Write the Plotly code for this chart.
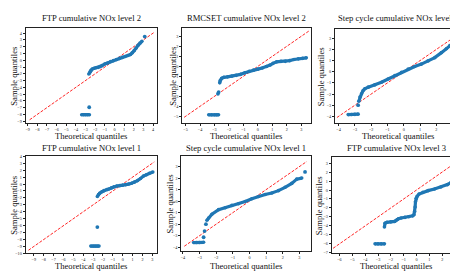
import plotly.graph_objects as go

W, H = 458, 273

titles = ["FTP cumulative NOx level 2", "RMCSET cumulative NOx level 2", "Step cycle cumulative NOx level 2",
          "FTP cumulative NOx level 1", "Step cycle cumulative NOx level 1", "FTP cumulative NOx level 3"]

# --- data (theoretical quantile, sample quantile) ---
# P1: FTP level 2
p1_cluster_x = [-3.4, -3.2, -3.0, -2.8, -2.6]
p1_cluster_y = [-8.05, -8.05, -8.05, -8.05, -8.05]
p1_pts_x = [-2.62, 3.14]
p1_pts_y = [-6.95, 3.5]
p1_curve_x = [-2.66, -2.55, -2.45, -2.3, -2.1, -1.9, -1.7, -1.5, -1.3, -1.0, -0.7, -0.4, -0.1, 0.2, 0.5, 0.8, 1.1, 1.4, 1.65, 1.85, 2.05, 2.25, 2.45, 2.65, 2.85]
p1_curve_y = [-2.04, -1.75, -1.5, -1.3, -1.18, -1.1, -1.08, -0.95, -0.8, -0.55, -0.4, -0.2, -0.05, 0.1, 0.27, 0.42, 0.55, 0.7, 0.85, 1.1, 1.4, 1.8, 2.2, 2.55, 2.8]

# P2: RMCSET level 2
p2_cluster_x = [-3.4, -3.2, -3.0, -2.85, -2.72]
p2_cluster_y = [-4.85, -4.85, -4.85, -4.85, -4.85]
p2_pts_x = [-2.76, -2.71]
p2_pts_y = [-2.74, -2.57]
p2_curve_x = [-2.64, -2.6, -2.5, -2.35, -2.1, -1.8, -1.5, -1.2, -0.9, -0.6, -0.3, 0.0, 0.3, 0.6, 0.85, 1.05, 1.3, 1.6, 1.9, 2.2, 2.5, 2.8, 3.1, 3.35]
p2_curve_y = [-1.65, -1.42, -1.2, -1.1, -1.05, -0.98, -0.9, -0.8, -0.65, -0.5, -0.38, -0.28, -0.16, -0.02, 0.13, 0.3, 0.45, 0.5, 0.5, 0.57, 0.68, 0.75, 0.8, 0.85]

# P3: Step cycle level 2
p3_cluster_x = [-3.41, -3.2, -3.0, -2.8]
p3_cluster_y = [-3.84, -3.83, -3.82, -3.8]
p3_pts_x = [-2.8]
p3_pts_y = [-3.0]
p3_curve_x = [-2.76, -2.69, -2.59, -2.49, -2.39, -2.18, -1.78, -1.37, -0.96, -0.55, -0.14, 0.27, 0.67, 1.08, 1.49, 1.9, 2.31, 2.61, 2.82, 3.02, 3.33]
p3_curve_y = [-2.65, -2.26, -1.97, -1.68, -1.53, -1.38, -1.18, -0.94, -0.65, -0.35, -0.06, 0.24, 0.47, 0.68, 0.97, 1.26, 1.71, 2.06, 2.35, 2.55, 2.62]

# P4: FTP level 1
p4_cluster_x = [-3.23, -3.0, -2.8, -2.6, -2.4]
p4_cluster_y = [-8.95, -8.95, -8.95, -8.95, -8.95]
p4_pts_x = [-2.57]
p4_pts_y = [-6.2]
p4_curve_x = [-2.57, -2.45, -2.33, -2.1, -1.9, -1.6, -1.4, -1.15, -0.9, -0.6, -0.3, 0.0, 0.3, 0.6, 0.9, 1.2, 1.5, 1.8, 2.1, 2.4, 2.7, 3.05]
p4_curve_y = [-1.8, -1.5, -1.33, -1.1, -0.95, -0.8, -0.71, -0.55, -0.38, -0.28, -0.22, -0.17, -0.1, 0.0, 0.12, 0.28, 0.5, 0.8, 1.15, 1.35, 1.55, 1.75]

# P5: Step cycle level 1
p5_cluster_x = [-3.36, -3.2, -3.0, -2.76]
p5_cluster_y = [-3.6, -3.6, -3.6, -3.58]
p5_pts_x = [-2.76, -2.7, -2.62, 3.34]
p5_pts_y = [-3.14, -2.6, -2.0, 2.54]
p5_curve_x = [-2.56, -2.46, -2.26, -1.86, -1.46, -1.06, -0.66, -0.26, 0.14, 0.54, 0.94, 1.34, 1.74, 2.14, 2.54, 2.84, 3.14]
p5_curve_y = [-1.66, -1.46, -1.14, -0.74, -0.57, -0.37, -0.23, -0.03, 0.2, 0.4, 0.57, 0.71, 0.91, 1.2, 1.54, 1.91, 2.0]

# P6: FTP level 3
p6_cluster_x = [-3.23, -3.0, -2.75, -2.5]
p6_cluster_y = [-6.0, -6.0, -6.0, -6.0]
p6_pts_x = []
p6_pts_y = []
p6_curve_x = [-2.5, -2.45, -2.3, -2.0, -1.7, -1.5, -1.4, -1.2, -0.9, -0.6, -0.3, -0.2, -0.14, -0.11, -0.08, -0.04, 0.05, 0.2, 0.5, 0.9, 1.4, 1.9, 2.4, 2.7, 2.85, 2.92, 3.18]
p6_curve_y = [-4.12, -3.7, -3.6, -3.55, -3.5, -3.3, -3.2, -3.12, -3.05, -2.98, -2.88, -2.75, -2.4, -1.9, -1.3, -0.95, -0.7, -0.45, -0.26, -0.07, 0.11, 0.34, 0.6, 0.85, 1.1, 1.42, 1.57]

# 45-degree reference line extents
ref_lo = [-8.8, -5.1, -4.1, -9.55, -3.92, -6.5]
ref_hi = [4.1, 3.55, 3.5, 3.2, 3.44, 3.2]

# axis ranges
x_ranges = [[-9.21, 4.41], [-5.24, 3.68], [-4.22, 3.57], [-9.83, 3.47], [-4.1, 3.7], [-6.6, 3.49]]
y_ranges = [[-9.32, 4.76], [-5.7, 3.86], [-4.62, 3.85], [-10.0, 4.03], [-4.37, 3.91], [-7.03, 3.7]]

# box pixel positions (left, right, top, bottom)
boxes = [(16.7, 148.3, 18.3, 115), (173.5, 302.7, 18, 115), (326.7, 454, 19, 115),
         (16.7, 148.3, 148.3, 247), (172.7, 302.7, 148.3, 245), (323.5, 453.3, 149, 246.7)]
ylabel_x = [5, 163.5, 313, 5, 161, 311]
title_y = [8.5, 8.5, 8.5, 140, 140, 140]
xlabel_top = [121.3, 121.3, 121.3, 253.3, 253.3, 253.3]

panels = [
    (p1_cluster_x, p1_cluster_y, p1_pts_x, p1_pts_y, p1_curve_x, p1_curve_y),
    (p2_cluster_x, p2_cluster_y, p2_pts_x, p2_pts_y, p2_curve_x, p2_curve_y),
    (p3_cluster_x, p3_cluster_y, p3_pts_x, p3_pts_y, p3_curve_x, p3_curve_y),
    (p4_cluster_x, p4_cluster_y, p4_pts_x, p4_pts_y, p4_curve_x, p4_curve_y),
    (p5_cluster_x, p5_cluster_y, p5_pts_x, p5_pts_y, p5_curve_x, p5_curve_y),
    (p6_cluster_x, p6_cluster_y, p6_pts_x, p6_pts_y, p6_curve_x, p6_curve_y),
]

BLUE = "#1f77b4"
FONT = "Liberation Serif"

fig = go.Figure()
layout = {}
annotations = []
for i, (cx, cy, px, py, kx, ky) in enumerate(panels):
    n = "" if i == 0 else str(i + 1)
    xa, ya = "x" + n, "y" + n
    l, r, t, b = boxes[i]
    layout["xaxis" + n] = dict(
        domain=[l / W, r / W], range=x_ranges[i], anchor=ya, dtick=1, tick0=0,
        showgrid=False, zeroline=False, showline=True, mirror=True, linecolor="#222", linewidth=1,
        ticks="outside", ticklen=2, tickwidth=0.6, tickcolor="#222",
        tickfont=dict(family=FONT, size=4.2, color="#222"))
    layout["yaxis" + n] = dict(
        domain=[1 - b / H, 1 - t / H], range=y_ranges[i], anchor=xa, dtick=1, tick0=0,
        showgrid=False, zeroline=False, showline=True, mirror=True, linecolor="#222", linewidth=1,
        ticks="outside", ticklen=2, tickwidth=0.6, tickcolor="#222",
        tickfont=dict(family=FONT, size=4.2, color="#222"))
    # 45 degree line
    fig.add_trace(go.Scatter(x=[ref_lo[i], ref_hi[i]], y=[ref_lo[i], ref_hi[i]], mode="lines",
                             line=dict(color="rgba(255,0,0,0.85)", width=1, dash="3px,1.5px"),
                             xaxis=xa, yaxis=ya, showlegend=False, hoverinfo="skip"))
    # cluster
    fig.add_trace(go.Scatter(x=cx, y=cy, mode="lines+markers",
                             line=dict(color=BLUE, width=3.2), marker=dict(color=BLUE, size=3.6),
                             xaxis=xa, yaxis=ya, showlegend=False))
    # isolated points
    if px:
        fig.add_trace(go.Scatter(x=px, y=py, mode="markers", marker=dict(color=BLUE, size=3.8),
                                 xaxis=xa, yaxis=ya, showlegend=False))
    # main curve
    fig.add_trace(go.Scatter(x=kx, y=ky, mode="lines+markers",
                             line=dict(color=BLUE, width=3.2), marker=dict(color=BLUE, size=3.6),
                             xaxis=xa, yaxis=ya, showlegend=False))
    cxp = (l + r) / 2 / W
    annotations.append(dict(text=titles[i], x=cxp, y=1 - title_y[i] / H, xref="paper", yref="paper",
                            xanchor="center", yanchor="middle", showarrow=False,
                            font=dict(family=FONT, size=8.6, color="#111")))
    annotations.append(dict(text="Theoretical quantiles", x=cxp, y=1 - xlabel_top[i] / H, xref="paper", yref="paper",
                            xanchor="center", yanchor="top", showarrow=False, borderpad=0,
                            font=dict(family=FONT, size=8.6, color="#111")))
    annotations.append(dict(text="Sample quantiles", x=ylabel_x[i] / W, y=1 - (t + b) / 2 / H,
                            xref="paper", yref="paper", textangle=-90,
                            xanchor="center", yanchor="middle", showarrow=False,
                            font=dict(family=FONT, size=8.6, color="#111")))

fig.update_layout(**layout)
fig.update_layout(width=W, height=H, margin=dict(l=0, r=0, t=0, b=0),
                  paper_bgcolor="white", plot_bgcolor="white", annotations=annotations,
                  showlegend=False)
fig.write_html("out.html")
